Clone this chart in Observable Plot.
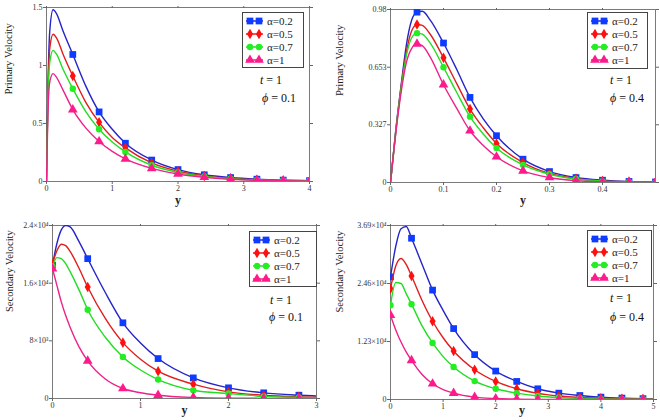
<!DOCTYPE html>
<html><head><meta charset="utf-8">
<script src="https://cdn.jsdelivr.net/npm/d3@7"></script>
<script src="https://cdn.jsdelivr.net/npm/@observablehq/plot@0.6"></script>
<style>
body{margin:0;background:#fff;}
#root{position:relative;width:660px;height:420px;font-family:"Liberation Serif",serif;overflow:hidden;}
.panel{position:absolute;}
.panel svg, .panel svg text{font-family:"Liberation Serif",serif !important;}
.legend{position:absolute;border:1px solid #444;background:#fff;font-size:11px;color:#222;box-sizing:border-box;padding:1px 0 0 2px;}
.legend .row{display:flex;align-items:center;height:13px;}
.legend svg{margin-right:3px;}
.ann{position:absolute;font-size:12px;color:#111;white-space:nowrap;line-height:14px;}
</style></head><body><div id="root"></div>
<script>
// ---------- shared ----------
const seriesNames = ["α=0.2", "α=0.5", "α=0.7", "α=1"];
const lineColors = ["#2424c8", "#e01e1e", "#22dd22", "#ee2288"];
const markerColors = ["#0d3bff", "#ff1010", "#22ee22", "#ff1a8c"];
const markerSymbols = ["square", "diamond", "circle", "triangle"];
const markerRadius = [3.8, 3.2, 3.2, 3.6];

// ---------- panel 1: primary velocity, phi = 0.1 ----------
const p1X = [0, 0.02, 0.05, 0.1, 0.15, 0.25, 0.4, 0.6, 0.8, 1.0, 1.2, 1.6, 2.0, 2.4, 2.8, 3.2, 3.6, 4.0];
const p1A02 = [0, 0.75, 1.3, 1.48, 1.45, 1.3, 1.095, 0.82, 0.60, 0.45, 0.33, 0.185, 0.103, 0.058, 0.034, 0.02, 0.012, 0.007];
const p1A05 = [0, 0.7, 1.15, 1.27, 1.24, 1.1, 0.91, 0.68, 0.51, 0.38, 0.29, 0.16, 0.088, 0.048, 0.027, 0.015, 0.009, 0.005];
const p1A07 = [0, 0.65, 1.03, 1.13, 1.1, 0.97, 0.80, 0.6, 0.45, 0.34, 0.255, 0.14, 0.078, 0.043, 0.024, 0.013, 0.008, 0.004];
const p1A1 = [0, 0.55, 0.86, 0.93, 0.9, 0.79, 0.62, 0.46, 0.345, 0.26, 0.195, 0.113, 0.065, 0.036, 0.02, 0.011, 0.006, 0.003];
const p1Markers = [0.4, 0.8, 1.2, 1.6, 2.0, 2.4, 2.8, 3.2, 3.6, 4.0];
const p1XTicks = [0, 1, 2, 3, 4];
const p1XLabels = ["0", "1", "2", "3", "4"];
const p1YTicks = [0, 0.5, 1, 1.5];
const p1YLabels = ["0", "0.5", "1", "1.5"];

// ---------- panel 2: primary velocity, phi = 0.4 ----------
const p2X = [0, 0.01, 0.02, 0.03, 0.04, 0.05, 0.06, 0.075, 0.1, 0.125, 0.15, 0.175, 0.2, 0.25, 0.3, 0.35, 0.4, 0.45, 0.5];
const p2A02 = [0, 0.3, 0.55, 0.78, 0.92, 0.965, 0.97, 0.92, 0.79, 0.64, 0.482, 0.36, 0.265, 0.132, 0.062, 0.028, 0.013, 0.006, 0.003];
const p2A05 = [0, 0.29, 0.54, 0.74, 0.86, 0.895, 0.89, 0.84, 0.706, 0.56, 0.416, 0.31, 0.221, 0.113, 0.051, 0.022, 0.009, 0.004, 0.002];
const p2A07 = [0, 0.29, 0.53, 0.72, 0.82, 0.846, 0.84, 0.79, 0.653, 0.51, 0.373, 0.275, 0.195, 0.1, 0.047, 0.02, 0.008, 0.003, 0.001];
const p2A1 = [0, 0.28, 0.51, 0.68, 0.76, 0.785, 0.775, 0.71, 0.554, 0.42, 0.293, 0.21, 0.146, 0.066, 0.028, 0.01, 0.004, 0.002, 0.001];
const p2Markers = [0.05, 0.1, 0.15, 0.2, 0.25, 0.3, 0.35, 0.4, 0.45, 0.5];
const p2XTicks = [0, 0.1, 0.2, 0.3, 0.4];
const p2XLabels = ["0", "0.1", "0.2", "0.3", "0.4"];
const p2YTicks = [0, 0.327, 0.653, 0.98];
const p2YLabels = ["0", "0.327", "0.653", "0.98"];

// ---------- panel 3: secondary velocity, phi = 0.1 ----------
const p3X = [0, 0.05, 0.1, 0.15, 0.2, 0.3, 0.4, 0.6, 0.8, 1.0, 1.2, 1.6, 2.0, 2.4, 2.8, 3.0];
const p3A02 = [18500, 21500, 23400, 24000, 23800, 21800, 19400, 14700, 10500, 7700, 5540, 2860, 1480, 785, 460, 350];
const p3A05 = [18700, 20500, 21400, 21200, 20400, 18100, 15460, 11100, 7750, 5450, 3785, 1985, 920, 450, 230, 170];
const p3A07 = [18300, 19550, 19400, 18700, 17600, 15100, 12320, 8500, 5770, 3950, 2630, 1150, 690, 300, 150, 100];
const p3A1 = [18000, 15700, 13400, 11500, 9900, 7200, 5215, 2700, 1385, 800, 460, 150, 50, 20, 10, 5];
const p3Markers = [0, 0.4, 0.8, 1.2, 1.6, 2.0, 2.4, 2.8];
const p3XTicks = [0, 1, 2, 3];
const p3XLabels = ["0", "1", "2", "3"];
const p3YTicks = [0, 8000, 16000, 24000];
const p3YLabels = ["0", "8×10³", "1.6×10⁴", "2.4×10⁴"];

// ---------- panel 4: secondary velocity, phi = 0.4 ----------
const p4X = [0, 0.1, 0.2, 0.3, 0.4, 0.6, 0.8, 1.0, 1.2, 1.6, 2.0, 2.4, 2.8, 3.2, 3.6, 4.0, 4.4, 4.8, 5.0];
const p4A02 = [26000, 32500, 36200, 36700, 34200, 28700, 23200, 18900, 15040, 9510, 6030, 3830, 2270, 1350, 850, 500, 300, 180, 140];
const p4A05 = [23500, 28300, 29900, 28600, 26180, 21000, 16600, 13100, 10290, 6315, 3830, 2270, 1300, 750, 420, 250, 150, 90, 70];
const p4A07 = [20000, 24800, 24600, 22400, 20220, 15600, 11990, 9100, 6880, 3900, 2270, 1350, 750, 420, 240, 140, 80, 50, 40];
const p4A1 = [17880, 14760, 12180, 10050, 8300, 5300, 3335, 2100, 1350, 500, 200, 80, 30, 15, 8, 4, 2, 1, 1];
const p4Markers = [0, 0.4, 0.8, 1.2, 1.6, 2.0, 2.4, 2.8, 3.2, 3.6, 4.0, 4.4, 4.8];
const p4XTicks = [0, 1, 2, 3, 4, 5];
const p4XLabels = ["0", "1", "2", "3", "4", "5"];
const p4YTicks = [0, 12300, 24600, 36900];
const p4YLabels = ["0", "1.23×10⁴", "2.46×10⁴", "3.69×10⁴"];

const root = document.getElementById("root");
const FONT = "'Liberation Serif', serif";

function panel(cfg) {
  const series = [cfg.a02, cfg.a05, cfg.a07, cfg.a1];
  const marks = [
    Plot.frame({stroke: "#7a7a7a"}),
    Plot.axisX({ticks: cfg.xTicks, tickSize: 3, tickPadding: 1, stroke: "#666", fontSize: 8,
      tickFormat: d => cfg.xLabels[cfg.xTicks.indexOf(d)], label: null, fill: "#333"}),
    Plot.axisX({anchor: "top", ticks: cfg.xTicks, tickSize: 2, stroke: "#666", tickFormat: () => "", label: null}),
    Plot.axisY({ticks: cfg.yTicks, tickSize: 3, tickPadding: 1, stroke: "#666", fontSize: 8,
      tickFormat: d => cfg.yLabels[cfg.yTicks.indexOf(d)], label: null, fill: "#333"}),
    Plot.axisY({anchor: "right", ticks: cfg.yTicks, tickSize: 3, stroke: "#666", tickFormat: () => "", label: null})
  ];
  series.forEach((ys, i) => {
    const rows = cfg.xs.map((x, j) => ({x, y: ys[j]}));
    const mrows = rows.filter(r => cfg.markers.some(m => Math.abs(m - r.x) < 1e-9));
    marks.push(Plot.line(rows, {x: "x", y: "y", stroke: lineColors[i], strokeWidth: 1.4, curve: "monotone-x", clip: true}));
    marks.push(Plot.dot(mrows, {x: "x", y: "y", fill: markerColors[i], symbol: markerSymbols[i], r: markerRadius[i], clip: true}));
  });
  marks.push(Plot.text([cfg.yTitle], {frameAnchor: "left", dx: cfg.yTitleDx, rotate: -90, fontSize: 10.5, fill: "#222"}));
  marks.push(Plot.text(["y"], {frameAnchor: "bottom", dy: cfg.xTitleDy, fontSize: 12, fontWeight: "bold", fill: "#222"}));
  const svg = Plot.plot({
    width: cfg.w, height: cfg.h,
    marginLeft: cfg.ml, marginRight: cfg.mr, marginTop: cfg.mt, marginBottom: cfg.mb,
    x: {domain: cfg.xDomain}, y: {domain: cfg.yDomain},
    style: {fontFamily: FONT, fontSize: "8px", background: "transparent", overflow: "visible"},
    marks
  });
  svg.style.fontFamily = FONT;
  const wrap = document.createElement("div");
  wrap.className = "panel";
  wrap.style.left = cfg.left + "px";
  wrap.style.top = cfg.top + "px";
  wrap.appendChild(svg);
  root.appendChild(wrap);

  // legend
  const lg = document.createElement("div");
  lg.className = "legend";
  Object.assign(lg.style, {left: cfg.lg[0] + "px", top: cfg.lg[1] + "px", width: cfg.lg[2] + "px", height: cfg.lg[3] + "px"});
  const symTypes = {square: d3.symbolSquare, diamond: d3.symbolDiamond, circle: d3.symbolCircle, triangle: d3.symbolTriangle};
  seriesNames.forEach((name, i) => {
    const row = document.createElement("div");
    row.className = "row";
    const sym = d3.symbol(symTypes[markerSymbols[i]], Math.PI * markerRadius[i] * markerRadius[i])();
    row.innerHTML = `<svg width="19" height="12"><line x1="1" x2="18" y1="6" y2="6" stroke="${lineColors[i]}" stroke-width="1.5"/>` +
      `<path transform="translate(5,6)" d="${sym}" fill="${markerColors[i]}"/><path transform="translate(14,6)" d="${sym}" fill="${markerColors[i]}"/></svg><span>${name}</span>`;
    lg.appendChild(row);
  });
  root.appendChild(lg);

  // annotations
  const a1 = document.createElement("div");
  a1.className = "ann";
  a1.style.left = cfg.ann[0] + "px"; a1.style.top = cfg.ann[1] + "px";
  a1.innerHTML = "<i>t</i> = 1";
  root.appendChild(a1);
  const a2 = document.createElement("div");
  a2.className = "ann";
  a2.style.left = cfg.ann[2] + "px"; a2.style.top = cfg.ann[3] + "px";
  a2.innerHTML = "<i>ϕ</i> = " + cfg.phi;
  root.appendChild(a2);
}

panel({left: 0, top: 0, w: 330, h: 210, ml: 46, mr: 21, mt: 7, mb: 29,
  xs: p1X, a02: p1A02, a05: p1A05, a07: p1A07, a1: p1A1, markers: p1Markers,
  xTicks: p1XTicks, xLabels: p1XLabels, yTicks: p1YTicks, yLabels: p1YLabels,
  xDomain: [0, 4], yDomain: [0, 1.5], yTitle: "Primary Velocity", yTitleDx: -38, xTitleDy: 22,
  lg: [242, 12, 62, 56], ann: [260, 73, 262, 91], phi: "0.1"});

panel({left: 330, top: 0, w: 330, h: 210, ml: 60, mr: 5, mt: 9, mb: 28,
  xs: p2X, a02: p2A02, a05: p2A05, a07: p2A07, a1: p2A1, markers: p2Markers,
  xTicks: p2XTicks, xLabels: p2XLabels, yTicks: p2YTicks, yLabels: p2YLabels,
  xDomain: [0, 0.5], yDomain: [0, 0.98], yTitle: "Primary Velocity", yTitleDx: -51, xTitleDy: 21,
  lg: [587, 12, 61, 57], ann: [610, 73, 610, 91], phi: "0.4"});

panel({left: 0, top: 210, w: 330, h: 210, ml: 52, mr: 14, mt: 15, mb: 22,
  xs: p3X, a02: p3A02, a05: p3A05, a07: p3A07, a1: p3A1, markers: p3Markers,
  xTicks: p3XTicks, xLabels: p3XLabels, yTicks: p3YTicks, yLabels: p3YLabels,
  xDomain: [0, 3], yDomain: [0, 24000], yTitle: "Secondary Velocity", yTitleDx: -43, xTitleDy: 15,
  lg: [249, 231, 68, 56], ann: [270, 293, 269, 310], phi: "0.1"});

panel({left: 330, top: 210, w: 330, h: 210, ml: 60, mr: 7, mt: 15, mb: 21,
  xs: p4X, a02: p4A02, a05: p4A05, a07: p4A07, a1: p4A1, markers: p4Markers,
  xTicks: p4XTicks, xLabels: p4XLabels, yTicks: p4YTicks, yLabels: p4YLabels,
  xDomain: [0, 5], yDomain: [0, 36900], yTitle: "Secondary Velocity", yTitleDx: -51, xTitleDy: 14,
  lg: [587, 230, 65, 57], ann: [610, 291, 610, 310], phi: "0.4"});
</script></body></html>
